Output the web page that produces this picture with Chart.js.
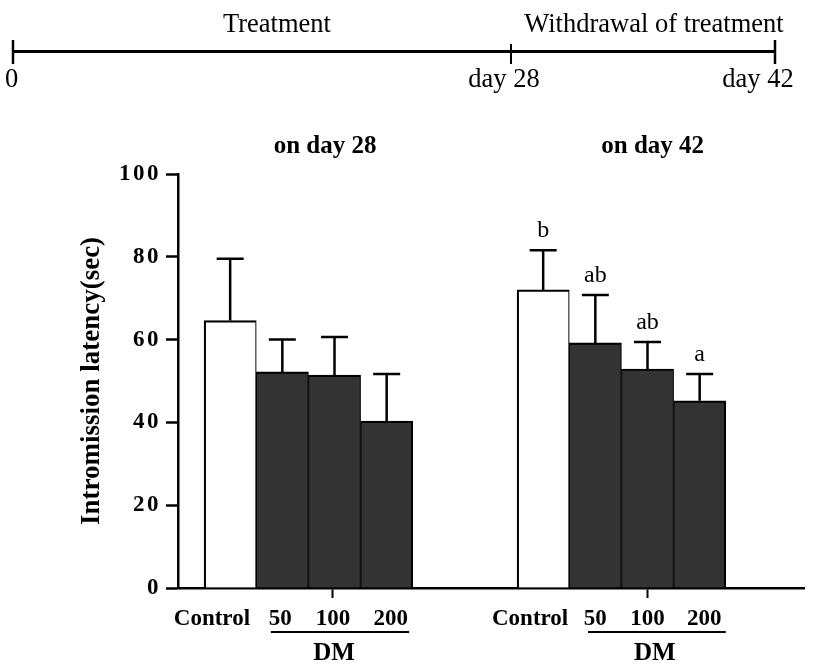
<!DOCTYPE html>
<html>
<head>
<meta charset="utf-8">
<script src="https://cdn.jsdelivr.net/npm/chart.js@4.4.1/dist/chart.umd.min.js"></script>
<style>
html,body{margin:0;padding:0;background:#fff;}
#wrap{position:relative;width:813px;height:672px;overflow:hidden;}
#c{position:absolute;left:0;top:0;}
#tl{position:absolute;left:0;top:0;}
#tl text{font-family:'Liberation Serif','Times New Roman',serif;font-size:26.5px;fill:#000;}
</style>
</head>
<body>
<div id="wrap">
<canvas id="c" width="813" height="672"></canvas>
<svg id="tl" width="813" height="110" xmlns="http://www.w3.org/2000/svg"></svg>
</div>
<script>
// ---------- data ----------
const phases = ['Treatment', 'Withdrawal of treatment'];
const timelineLabels = ['0', 'day 28', 'day 42'];
const groups = ['on day 28', 'on day 42'];
const categories = ['Control', '50', '100', '200'];
const doseLabel = 'DM';
const day28Mean = [64.6, 52.2, 51.4, 40.3];
const day28Sem  = [14.9, 7.8, 9.2, 11.4];
const day42Mean = [72.0, 59.2, 52.9, 45.2];
const day42Sem  = [9.6, 11.6, 6.5, 6.5];
const day28Letters = ['', '', '', ''];
const day42Letters = ['b', 'ab', 'ab', 'a'];
const yTicks = [0, 20, 40, 60, 80, 100];
const yTitle = 'Intromission latency(sec)';

// ---------- layout (positions on the x scale, not data) ----------
const barX = [[1, 2, 3, 4], [7, 8, 9, 10]];
const labelX = [[0.65, 1.96, 2.97, 4.08], [6.75, 8.0, 9.0, 10.09]];
const titleX = [2.82, 9.1];
const dmX = [2.99, 9.14];
const lineX = [[1.78, 4.43], [7.86, 10.5]];

// ---------- timeline (svg) ----------
(function(){
  const svg = document.getElementById('tl');
  const ns = 'http://www.w3.org/2000/svg';
  function line(x1,y1,x2,y2,w){const l=document.createElementNS(ns,'line');l.setAttribute('x1',x1);l.setAttribute('y1',y1);l.setAttribute('x2',x2);l.setAttribute('y2',y2);l.setAttribute('stroke','#000');l.setAttribute('stroke-width',w);svg.appendChild(l);}
  function text(t,x,y){const e=document.createElementNS(ns,'text');e.setAttribute('x',x);e.setAttribute('y',y);e.setAttribute('text-anchor','middle');e.textContent=t;svg.appendChild(e);}
  line(13,51.5,775,51.5,3);
  line(13,40,13,64,2.5);
  line(511,44,511,64,2);
  line(775,40,775,64,2.5);
  text(phases[0],277,32);
  text(phases[1],654,32);
  text(timelineLabels[0],11.5,87);
  text(timelineLabels[1],504,87);
  text(timelineLabels[2],758,87);
})();

// ---------- chart ----------
const serif = "'Liberation Serif','Times New Roman',serif";
const means = [...day28Mean, ...day42Mean];
const sems = [...day28Sem, ...day42Sem];
const letters = [...day28Letters, ...day42Letters];
const xs = barX.flat();
const points = xs.map((x, i) => ({x: x, y: means[i]}));
const tickVals = labelX.flat();
const tickText = [...categories, ...categories];

const extras = {
  id: 'extras',
  beforeDraw(chart) {
    const y = chart.scales.y;
    if (y && !y._patched) {
      const orig = y.drawLabels;
      y.drawLabels = function(a) {
        const c = this.ctx; c.save(); c.letterSpacing = '2.5px'; orig.call(this, a); c.restore();
      };
      y._patched = true;
    }
  },
  afterDatasetsDraw(chart) {
    const {ctx, scales: {x, y}, chartArea} = chart;
    const meta = chart.getDatasetMeta(0);
    ctx.save();
    ctx.strokeStyle = '#000';
    ctx.fillStyle = '#000';
    ctx.lineWidth = 2.5;
    meta.data.forEach((bar, i) => {
      const top = y.getPixelForValue(means[i] + sems[i]);
      ctx.beginPath();
      ctx.moveTo(bar.x, bar.y);
      ctx.lineTo(bar.x, top);
      ctx.moveTo(bar.x - 13.5, top);
      ctx.lineTo(bar.x + 13.5, top);
      ctx.stroke();
      if (letters[i]) {
        ctx.font = '24px ' + serif;
        ctx.textAlign = 'center';
        ctx.textBaseline = 'alphabetic';
        ctx.fillText(letters[i], bar.x, top - 13);
      }
    });
    // group titles
    ctx.font = 'bold 25px ' + serif;
    ctx.textAlign = 'center';
    ctx.textBaseline = 'alphabetic';
    groups.forEach((g, gi) => {
      ctx.fillText(g, x.getPixelForValue(titleX[gi]), chartArea.top - 21);
    });
    // DM underline and label
    ctx.lineWidth = 2;
    groups.forEach((g, gi) => {
      const ly = chartArea.bottom + 44;
      ctx.beginPath();
      ctx.moveTo(x.getPixelForValue(lineX[gi][0]), ly);
      ctx.lineTo(x.getPixelForValue(lineX[gi][1]), ly);
      ctx.stroke();
      ctx.fillText(doseLabel, x.getPixelForValue(dmX[gi]), chartArea.bottom + 72);
    });
    ctx.restore();
  }
};

new Chart(document.getElementById('c').getContext('2d'), {
  type: 'bar',
  data: {
    datasets: [{
      data: points,
      backgroundColor: c => (c.dataIndex % 4 === 0 ? '#ffffff' : '#333333'),
      borderColor: '#000',
      borderWidth: c => ({top: 2.2, left: c.dataIndex % 4 === 0 ? 2.2 : 1.2, right: c.dataIndex % 4 === 3 ? 2.2 : 1.2, bottom: 0}),
      borderSkipped: 'start',
      barPercentage: 1,
      categoryPercentage: 1
    }]
  },
  options: {
    responsive: false,
    animation: false,
    events: [],
    layout: {padding: {top: 174, right: 9, left: 0, bottom: 0}},
    plugins: {legend: {display: false}, tooltip: {enabled: false}, title: {display: false}},
    scales: {
      x: {
        type: 'linear', min: 0, max: 12, offset: false, z: 1,
        afterBuildTicks: s => { s.ticks = tickVals.map(v => ({value: v})); },
        afterFit: s => { s.height = 84; },
        ticks: {autoSkip: false, maxRotation: 0, minRotation: 0, padding: 7, color: '#000',
          font: {family: serif, size: 23, weight: 'bold'},
          callback: (v, i) => tickText[i]},
        grid: {display: true, drawOnChartArea: false, drawTicks: true, tickLength: 10, tickWidth: 2,
          offset: false,
          tickColor: c => ((c.index === 2 || c.index === 6) ? '#000' : 'rgba(0,0,0,0)')},
        border: {display: true, color: '#000', width: 2.5}
      },
      y: {
        min: 0, max: 100,
        afterBuildTicks: s => { s.ticks = yTicks.map(v => ({value: v})); },
        afterFit: s => { s.width = 178; },
        ticks: {padding: 5, color: '#000', font: {family: serif, size: 23, weight: 'bold'}},
        grid: {drawOnChartArea: false, drawTicks: true, tickLength: 12, tickWidth: 2.5, tickColor: '#000'},
        border: {display: true, color: '#000', width: 2.5},
        title: {display: true, text: yTitle, color: '#000',
          font: {family: serif, size: 27, weight: 'bold'}, padding: {top: 76, bottom: 0}}
      }
    }
  },
  plugins: [extras]
});
</script>
</body>
</html>
